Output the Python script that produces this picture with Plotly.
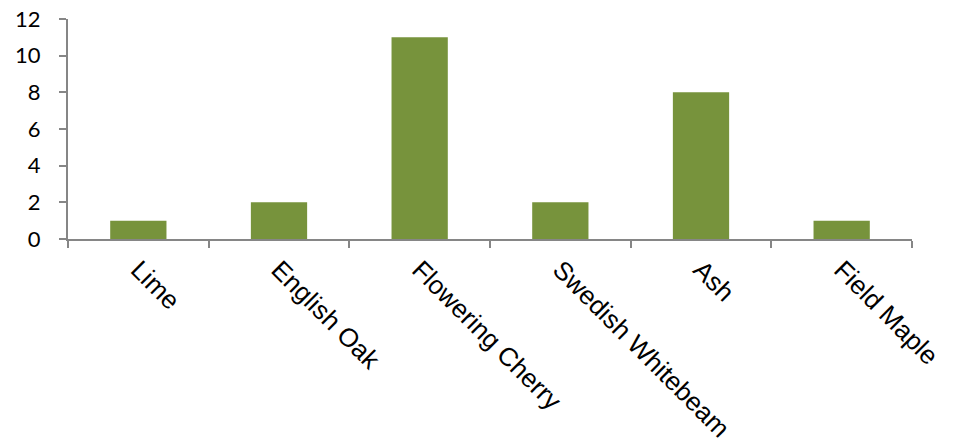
import plotly.graph_objects as go

# Tree species counts
species = ["Lime", "English Oak", "Flowering Cherry", "Swedish Whitebeam", "Ash", "Field Maple"]
counts = [1, 2, 11, 2, 8, 1]
y_ticks = [0, 2, 4, 6, 8, 10, 12]

axis_grey = "#868686"
bar_green = "#77933C"
label_font = "Liberation Sans, Arial, sans-serif"
number_font = "Lato, Open Sans, sans-serif"

fig = go.Figure(
    go.Bar(
        x=species,
        y=counts,
        marker=dict(color=bar_green, line=dict(width=0)),
        width=0.4,
    )
)

fig.update_layout(
    width=958,
    height=447,
    margin=dict(l=68, r=46, t=19, b=208),
    paper_bgcolor="white",
    plot_bgcolor="white",
    showlegend=False,
    font=dict(family=label_font, size=19, color="black"),
)

fig.update_xaxes(
    type="category",
    automargin=False,
    tickangle=45,
    tickson="boundaries",
    ticks="outside",
    ticklen=7,
    tickwidth=2,
    tickcolor=axis_grey,
    showline=True,
    linecolor=axis_grey,
    linewidth=2,
    showgrid=False,
    ticklabelstandoff=3,
    tickfont=dict(family=label_font, size=26, color="black"),
)

fig.update_yaxes(
    range=[0, 12],
    automargin=False,
    tickvals=y_ticks,
    ticktext=[str(v) for v in y_ticks],
    ticks="outside",
    ticklen=7,
    tickwidth=2,
    tickcolor=axis_grey,
    showline=True,
    linecolor=axis_grey,
    linewidth=2,
    showgrid=False,
    zeroline=False,
    ticklabelstandoff=14,
    tickfont=dict(family=number_font, size=22, color="black"),
)

fig.write_html("out.html")
